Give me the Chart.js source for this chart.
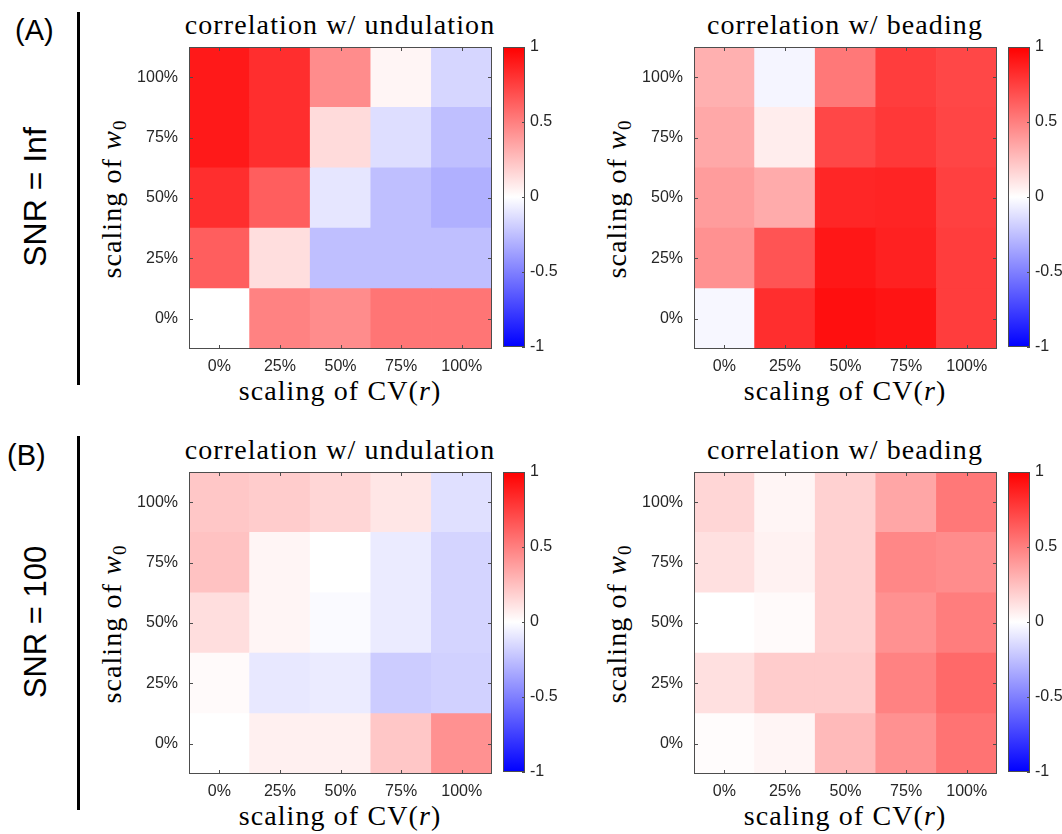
<!DOCTYPE html>
<html>
<head>
<meta charset="utf-8">
<script src="https://cdn.jsdelivr.net/npm/chart.js@4"></script>
<style>
  body { margin: 0; background: #fff; }
  #page { position: relative; width: 1062px; height: 834px; overflow: hidden; }
  canvas { position: absolute; }
  .txt { position: absolute; line-height: 1; white-space: nowrap; color: #000; }
  .serif { font-family: 'Liberation Serif', 'Times New Roman', serif; font-size: 28px; letter-spacing: 1.1px; transform: translate(-50%, -50%); }
  .rot { transform: translate(-50%, -50%) rotate(-90deg); }
  .sans { font-family: 'Liberation Sans', Arial, sans-serif; }
  .bar { position: absolute; width: 3px; background: #000; }
  sub { font-size: 19px; vertical-align: -5px; }
</style>
</head>
<body>
<div id="page">
  <div class="txt sans" style="left:15px;top:16px;font-size:29px">(A)</div>
  <div class="txt sans rot" style="left:35px;top:197px;font-size:32px">SNR = Inf</div>
  <div class="bar" style="left:77px;top:12px;height:373px"></div>
  <div class="txt sans" style="left:7px;top:441px;font-size:29px">(B)</div>
  <div class="txt sans rot" style="left:35px;top:622px;font-size:31px">SNR = 100</div>
  <div class="bar" style="left:77px;top:436px;height:374px"></div>

  <div class="txt serif" style="left:340px;top:25px">correlation w/ undulation</div>
  <div class="txt serif" style="left:845px;top:25px">correlation w/ beading</div>
  <div class="txt serif" style="left:340px;top:450px">correlation w/ undulation</div>
  <div class="txt serif" style="left:845px;top:450px">correlation w/ beading</div>

  <div class="txt serif" style="left:340px;top:391px">scaling of CV(<i>r</i>)</div>
  <div class="txt serif" style="left:845px;top:391px">scaling of CV(<i>r</i>)</div>
  <div class="txt serif" style="left:340px;top:816px">scaling of CV(<i>r</i>)</div>
  <div class="txt serif" style="left:845px;top:816px">scaling of CV(<i>r</i>)</div>

  <div class="txt serif rot" style="left:113px;top:199px">scaling of <i>w</i><sub>0</sub></div>
  <div class="txt serif rot" style="left:618px;top:199px">scaling of <i>w</i><sub>0</sub></div>
  <div class="txt serif rot" style="left:113px;top:624px">scaling of <i>w</i><sub>0</sub></div>
  <div class="txt serif rot" style="left:618px;top:624px">scaling of <i>w</i><sub>0</sub></div>

  <canvas id="hA1" style="left:129px;top:37px"></canvas>
  <canvas id="cA1" style="left:503px;top:37px"></canvas>
  <canvas id="hA2" style="left:634px;top:37px"></canvas>
  <canvas id="cA2" style="left:1008px;top:37px"></canvas>
  <canvas id="hB1" style="left:129px;top:462px"></canvas>
  <canvas id="cB1" style="left:503px;top:462px"></canvas>
  <canvas id="hB2" style="left:634px;top:462px"></canvas>
  <canvas id="cB2" style="left:1008px;top:462px"></canvas>
</div>
<script>
const cvLabels = ['0%', '25%', '50%', '75%', '100%'];
const w0Labels = ['0%', '25%', '50%', '75%', '100%'];
const cbarTicks = [-1, -0.5, 0, 0.5, 1];

// rows go from w0 = 0% (bottom) to 100% (top), columns are CV(r) scaling
const undulationInf = [
    [0.00, 0.49, 0.45, 0.54, 0.54],
    [0.63, 0.13, -0.25, -0.25, -0.25],
    [0.82, 0.63, -0.10, -0.25, -0.31],
    [0.90, 0.82, 0.14, -0.13, -0.25],
    [0.90, 0.82, 0.45, 0.04, -0.16]
];
const beadingInf = [
    [-0.03, 0.82, 0.94, 0.92, 0.76],
    [0.43, 0.67, 0.91, 0.87, 0.76],
    [0.39, 0.33, 0.85, 0.86, 0.75],
    [0.34, 0.07, 0.72, 0.78, 0.73],
    [0.31, -0.04, 0.53, 0.76, 0.72]
];
const undulation100 = [
    [0.00, 0.06, 0.06, 0.22, 0.43],
    [0.02, -0.09, -0.08, -0.20, -0.18],
    [0.13, 0.04, -0.02, -0.08, -0.17],
    [0.24, 0.04, 0.00, -0.08, -0.17],
    [0.22, 0.20, 0.16, 0.10, -0.12]
];
const beading100 = [
    [0.01, 0.04, 0.27, 0.43, 0.55],
    [0.12, 0.20, 0.20, 0.49, 0.59],
    [0.00, 0.02, 0.18, 0.43, 0.51],
    [0.12, 0.05, 0.18, 0.47, 0.45],
    [0.16, 0.04, 0.18, 0.35, 0.53]
];

const tickFont = { family: "'Liberation Sans', Arial, sans-serif", size: 16 };
const tickColor = '#262626';
const frameColor = '#4d4d4d';

function toColor(v) {
    if (v >= 0) {
        const c = Math.round(255 * (1 - v));
        return `rgb(255,${c},${c})`;
    }
    const c = Math.round(255 * (1 + v));
    return `rgb(${c},${c},255)`;
}

// box round the plot plus short inward ticks, matlab style
const framePlugin = {
    id: 'frame',
    afterDraw(chart, args, opts) {
        const { ctx, chartArea: a } = chart;
        const len = opts.tickLen;
        ctx.save();
        ctx.strokeStyle = frameColor;
        ctx.lineWidth = 1;
        ctx.strokeRect(Math.round(a.left) + 0.5, Math.round(a.top) + 0.5,
            Math.round(a.right - a.left) - 1, Math.round(a.bottom - a.top) - 1);
        ctx.beginPath();
        if (opts.xTicks) {
            const x = chart.scales.x;
            cvLabels.forEach((_, i) => {
                const px = Math.round(x.getPixelForValue(i)) + 0.5;
                ctx.moveTo(px, a.bottom); ctx.lineTo(px, a.bottom - len);
                ctx.moveTo(px, a.top); ctx.lineTo(px, a.top + len);
            });
        }
        const y = chart.scales.y;
        y.ticks.forEach(t => {
            const py = Math.round(y.getPixelForValue(t.value)) + 0.5;
            if (opts.leftTicks) {
                ctx.moveTo(a.left, py); ctx.lineTo(a.left + len, py);
            }
            ctx.moveTo(a.right, py); ctx.lineTo(a.right - len, py);
        });
        ctx.stroke();
        ctx.restore();
    }
};

function heatmap(id, values) {
    const el = document.getElementById(id);
    el.width = 367;
    el.height = 345;
    new Chart(el, {
        type: 'bar',
        data: {
            labels: cvLabels,
            datasets: values.map((row, i) => ({
                data: row.map(() => [i - 0.5, i + 0.5]),
                backgroundColor: row.map(toColor),
                borderWidth: 0,
                barPercentage: 1,
                categoryPercentage: 1,
                grouped: false
            }))
        },
        options: {
            responsive: false,
            animation: false,
            layout: { padding: { top: 10, right: 4, left: 0, bottom: 0 } },
            plugins: {
                legend: { display: false },
                tooltip: { enabled: false },
                frame: { xTicks: true, leftTicks: true, tickLen: 4 }
            },
            scales: {
                x: {
                    grid: { display: false, drawTicks: false },
                    border: { display: false },
                    ticks: { font: tickFont, color: tickColor, padding: 8, maxRotation: 0 },
                    afterFit: s => { s.height = 33; s.paddingLeft = 0; s.paddingRight = 0; }
                },
                y: {
                    type: 'linear',
                    min: -0.5,
                    max: 4.5,
                    grid: { display: false, drawTicks: false },
                    border: { display: false },
                    afterBuildTicks: s => { s.ticks = w0Labels.map((_, i) => ({ value: i })); },
                    ticks: { font: tickFont, color: tickColor, padding: 11, callback: v => w0Labels[v] },
                    afterFit: s => { s.width = 60; s.paddingTop = 0; s.paddingBottom = 0; }
                }
            }
        },
        plugins: [framePlugin]
    });
}

function colorbar(id, width) {
    const el = document.getElementById(id);
    el.width = width;
    el.height = 322;
    new Chart(el, {
        type: 'bar',
        data: {
            labels: [''],
            datasets: [{
                data: [[cbarTicks[0], cbarTicks[cbarTicks.length - 1]]],
                backgroundColor: c => {
                    const a = c.chart.chartArea;
                    if (!a) return '#fff';
                    const g = c.chart.ctx.createLinearGradient(0, a.bottom, 0, a.top);
                    g.addColorStop(0, 'rgb(0,0,255)');
                    g.addColorStop(0.5, 'rgb(255,255,255)');
                    g.addColorStop(1, 'rgb(255,0,0)');
                    return g;
                },
                borderWidth: 0,
                barPercentage: 1,
                categoryPercentage: 1
            }]
        },
        options: {
            responsive: false,
            animation: false,
            layout: { padding: { top: 10, bottom: 12, left: 0, right: 0 } },
            plugins: {
                legend: { display: false },
                tooltip: { enabled: false },
                frame: { xTicks: false, leftTicks: false, tickLen: 3 }
            },
            scales: {
                x: { display: false },
                y: {
                    position: 'right',
                    min: -1,
                    max: 1,
                    grid: { display: false, drawTicks: false },
                    border: { display: false },
                    afterBuildTicks: s => { s.ticks = cbarTicks.map(v => ({ value: v })); },
                    ticks: { font: tickFont, color: tickColor, padding: 5, callback: v => String(v) },
                    afterFit: s => { s.width = width - 22; s.paddingTop = 0; s.paddingBottom = 0; }
                }
            }
        },
        plugins: [framePlugin]
    });
}

heatmap('hA1', undulationInf);
heatmap('hA2', beadingInf);
heatmap('hB1', undulation100);
heatmap('hB2', beading100);
colorbar('cA1', 62);
colorbar('cA2', 54);
colorbar('cB1', 62);
colorbar('cB2', 54);
</script>
</body>
</html>
